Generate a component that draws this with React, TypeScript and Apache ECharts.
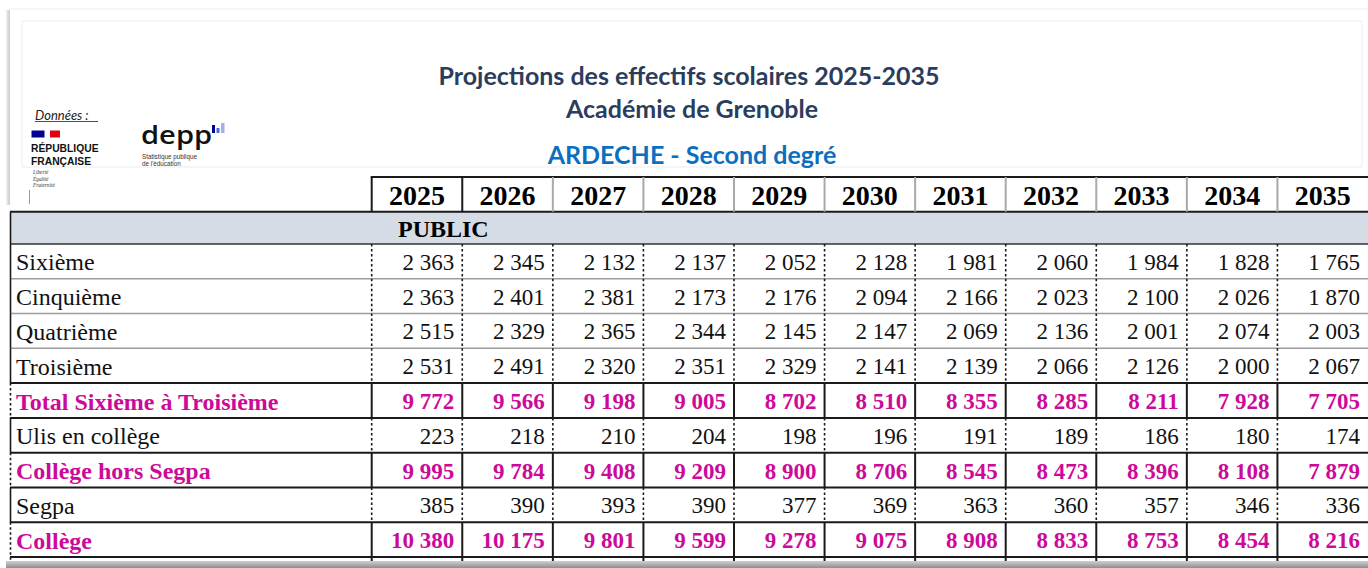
import React, { useEffect, useRef } from "react";
import * as echarts from "echarts";

// ---------- DATA ----------
const years = ["2025", "2026", "2027", "2028", "2029", "2030", "2031", "2032", "2033", "2034", "2035"];
const rowLabels = [
  "Sixième",
  "Cinquième",
  "Quatrième",
  "Troisième",
  "Total Sixième à Troisième",
  "Ulis en collège",
  "Collège hors Segpa",
  "Segpa",
  "Collège",
];
const totalRowLabels = ["Total Sixième à Troisième", "Collège hors Segpa", "Collège"];

const sixieme = [2363, 2345, 2132, 2137, 2052, 2128, 1981, 2060, 1984, 1828, 1765];
const cinquieme = [2363, 2401, 2381, 2173, 2176, 2094, 2166, 2023, 2100, 2026, 1870];
const quatrieme = [2515, 2329, 2365, 2344, 2145, 2147, 2069, 2136, 2001, 2074, 2003];
const troisieme = [2531, 2491, 2320, 2351, 2329, 2141, 2139, 2066, 2126, 2000, 2067];
const totalSixTrois = [9772, 9566, 9198, 9005, 8702, 8510, 8355, 8285, 8211, 7928, 7705];
const ulis = [223, 218, 210, 204, 198, 196, 191, 189, 186, 180, 174];
const collegeHorsSegpa = [9995, 9784, 9408, 9209, 8900, 8706, 8545, 8473, 8396, 8108, 7879];
const segpa = [385, 390, 393, 390, 377, 369, 363, 360, 357, 346, 336];
const college = [10380, 10175, 9801, 9599, 9278, 9075, 8908, 8833, 8753, 8454, 8216];

const tableValues = [sixieme, cinquieme, quatrieme, troisieme, totalSixTrois, ulis, collegeHorsSegpa, segpa, college];

const titleLine1 = "Projections des effectifs scolaires 2025-2035";
const titleLine2 = "Académie de Grenoble";
const subtitle = "ARDECHE - Second degré";
const sectionLabel = "PUBLIC";

// ---------- LAYOUT / STYLE ----------
const W = 1368;
const H = 568;
const PAGE_LEFT = 10;
const COL_W = 91.33;
const GRID_LEFT = 371.7;
const GRID_TOP = 244;
const GRID_H = 313;
const HEADER_TOP = 177;
const BAND_TOP = 211.7;
const SERIF = "'Liberation Serif', 'Times New Roman', serif";
const SANS = "Lato, 'Open Sans', sans-serif";
const LOGO_SANS = "'Liberation Sans', Arial, sans-serif";
const MAGENTA = "#cc0a9a";
const DARK = "#1a1a1a";
const DOT = [2.5, 2.5];
const TITLE_SIZE = 25;

const fmt = (n: number) => String(n).replace(/\B(?=(\d{3})+(?!\d))/g, " ");
const isTotal = (r: number) => totalRowLabels.indexOf(rowLabels[r]) >= 0;

export default function App() {
  const ref = useRef<HTMLDivElement>(null);

  useEffect(() => {
    if (!ref.current) return;
    const chart = echarts.init(ref.current, null, { renderer: "svg" });

    const cellData: number[][] = [];
    tableValues.forEach((vals, r) => vals.forEach((v, c) => cellData.push([c, r, v])));
    const rowData = rowLabels.map((_, r) => [0, r]);

    const option: any = {
      animation: false,
      backgroundColor: "#ffffff",
      title: [
        {
          text: titleLine1,
          left: 689,
          top: 60,
          padding: 0,
          textAlign: "center",
          textStyle: { fontFamily: SANS, fontWeight: "bold", fontSize: TITLE_SIZE, lineHeight: 30, color: "#2b3d5c" },
        },
        {
          text: titleLine2,
          left: 692,
          top: 93,
          padding: 0,
          textAlign: "center",
          textStyle: { fontFamily: SANS, fontWeight: "bold", fontSize: TITLE_SIZE, lineHeight: 30, color: "#2b3d5c" },
        },
        {
          text: subtitle,
          left: 692,
          top: 139,
          padding: 0,
          textAlign: "center",
          textStyle: { fontFamily: SANS, fontWeight: "bold", fontSize: TITLE_SIZE, lineHeight: 30, color: "#0a6fc0" },
        },
      ],
      grid: { left: GRID_LEFT, top: GRID_TOP, width: COL_W * years.length, height: GRID_H, show: false },
      xAxis: {
        type: "category",
        data: years,
        position: "top",
        axisLine: { show: false },
        axisTick: { show: false },
        splitLine: { show: false },
        axisLabel: {
          interval: 0,
          margin: 49,
          verticalAlign: "middle",
          fontFamily: SERIF,
          fontWeight: "bold",
          fontSize: 28,
          color: "#000",
        },
      },
      yAxis: { type: "category", data: rowLabels, inverse: true, show: false },
      series: [
        {
          type: "custom",
          name: "rows",
          silent: true,
          data: rowData,
          encode: { x: 0, y: 1 },
          renderItem: (params: any, api: any) => {
            const r = api.value(1) as number;
            const pt = api.coord([0, r]);
            const h = api.size([0, 1])[1];
            const top = pt[1] - h / 2;
            const bottom = pt[1] + h / 2;
            const tot = isTotal(r);
            const last = r === rowLabels.length - 1;
            const strong = tot || last || (r + 1 < rowLabels.length && isTotal(r + 1));
            return {
              type: "group",
              children: [
                {
                  type: "text",
                  x: PAGE_LEFT + 6,
                  y: pt[1] + 1,
                  style: {
                    text: rowLabels[r],
                    fontFamily: SERIF,
                    fontSize: 24,
                    fontWeight: tot ? "bold" : "normal",
                    fill: tot ? MAGENTA : "#111",
                    align: "left",
                    verticalAlign: "middle",
                  },
                },
                {
                  type: "line",
                  shape: { x1: PAGE_LEFT, y1: bottom, x2: W, y2: bottom },
                  style: { stroke: strong ? DARK : "#9c9c9c", lineWidth: strong ? 2 : 1.5 },
                },
                {
                  type: "line",
                  shape: { x1: PAGE_LEFT + 0.5, y1: top, x2: PAGE_LEFT + 0.5, y2: bottom + (last ? 4 : 0) },
                  style: { stroke: DARK, lineWidth: 1.6, lineDash: tot ? DOT : null },
                },
              ],
            };
          },
          z: 2,
        },
        {
          type: "custom",
          name: "cells",
          silent: true,
          data: cellData,
          encode: { x: 0, y: 1 },
          renderItem: (params: any, api: any) => {
            const c = api.value(0) as number;
            const r = api.value(1) as number;
            const v = api.value(2) as number;
            const pt = api.coord([c, r]);
            const sz = api.size([1, 1]);
            const left = pt[0] - sz[0] / 2;
            const right = pt[0] + sz[0] / 2;
            const top = pt[1] - sz[1] / 2;
            const bottom = pt[1] + sz[1] / 2;
            const tot = isTotal(r);
            const last = r === rowLabels.length - 1;
            const children: any[] = [
              {
                type: "text",
                x: right - 8,
                y: pt[1] + 1,
                style: {
                  text: fmt(v),
                  fontFamily: SERIF,
                  fontSize: 23,
                  fontWeight: tot ? "bold" : "normal",
                  fill: tot ? MAGENTA : "#111",
                  align: "right",
                  verticalAlign: "middle",
                },
              },
              {
                type: "line",
                shape: { x1: left, y1: top, x2: left, y2: bottom + (last ? 4 : 0) },
                style: { stroke: DARK, lineWidth: tot ? 2 : 1.6, lineDash: tot ? null : DOT },
              },
            ];
            if (r === 0) {
              children.push({
                type: "line",
                shape: { x1: left, y1: HEADER_TOP, x2: left, y2: BAND_TOP },
                style: { stroke: c <= 1 ? DARK : "#a9a9a9", lineWidth: 2 },
              });
            }
            return { type: "group", children };
          },
          z: 3,
        },
      ],
      graphic: [
        // page edges / shadows
        { type: "line", shape: { x1: PAGE_LEFT, y1: 9, x2: W, y2: 9 }, style: { stroke: "#eeeeee", lineWidth: 1 } },
        {
          type: "rect",
          shape: { x: 6, y: 10, width: 4, height: 195 },
          style: {
            fill: new echarts.graphic.LinearGradient(0, 0, 1, 0, [
              { offset: 0, color: "#f2f2f2" },
              { offset: 1, color: "#c9c9c9" },
            ]),
          },
        },
        { type: "rect", shape: { x: 22, y: 21, width: 1340, height: 146 }, style: { fill: "none", stroke: "#ebebeb", lineWidth: 1 } },
        { type: "line", shape: { x1: 29.5, y1: 190, x2: 29.5, y2: 204 }, style: { stroke: "#9a9a9a", lineWidth: 1 } },
        {
          type: "rect",
          shape: { x: 6, y: 561, width: W - 6, height: 7 },
          style: {
            fill: new echarts.graphic.LinearGradient(0, 0, 0, 1, [
              { offset: 0, color: "#cfcfcf" },
              { offset: 1, color: "#8e8e8e" },
            ]),
          },
        },
        // header row top line
        { type: "line", shape: { x1: GRID_LEFT - 1, y1: HEADER_TOP, x2: W, y2: HEADER_TOP }, style: { stroke: DARK, lineWidth: 2 } },
        // PUBLIC band
        { type: "rect", shape: { x: PAGE_LEFT, y: BAND_TOP, width: W - PAGE_LEFT, height: GRID_TOP - BAND_TOP }, style: { fill: "#d6dce5" } },
        { type: "line", shape: { x1: PAGE_LEFT, y1: BAND_TOP, x2: W, y2: BAND_TOP }, style: { stroke: DARK, lineWidth: 2 } },
        { type: "line", shape: { x1: PAGE_LEFT, y1: GRID_TOP, x2: W, y2: GRID_TOP }, style: { stroke: "#333", lineWidth: 1.6 } },
        { type: "line", shape: { x1: PAGE_LEFT + 0.5, y1: BAND_TOP, x2: PAGE_LEFT + 0.5, y2: GRID_TOP }, style: { stroke: DARK, lineWidth: 1.6 } },
        {
          type: "text",
          x: 398,
          y: (BAND_TOP + GRID_TOP) / 2 + 1,
          style: { text: sectionLabel, fontFamily: SERIF, fontSize: 24, fontWeight: "bold", fill: "#000", align: "left", verticalAlign: "middle" },
        },
        // Données :
        {
          type: "text",
          x: 35,
          y: 115,
          style: { text: "Données :", fontFamily: SANS, fontStyle: "italic", fontSize: 13, fill: "#222", align: "left", verticalAlign: "middle" },
        },
        { type: "line", shape: { x1: 35, y1: 121.5, x2: 98, y2: 121.5 }, style: { stroke: "#222", lineWidth: 0.8 } },
        // Marianne
        { type: "rect", shape: { x: 31.5, y: 130.5, width: 13, height: 7 }, style: { fill: "#000091" } },
        { type: "rect", shape: { x: 50, y: 130.5, width: 10, height: 7 }, style: { fill: "#e1000f" } },
        {
          type: "text",
          x: 31,
          y: 155,
          style: {
            text: "RÉPUBLIQUE\nFRANÇAISE",
            fontFamily: LOGO_SANS,
            fontWeight: "bold",
            fontSize: 10.3,
            lineHeight: 12.5,
            fill: "#111",
            align: "left",
            verticalAlign: "middle",
          },
        },
        {
          type: "text",
          x: 33,
          y: 178.5,
          style: { text: "Liberté\nÉgalité\nFraternité", fontFamily: SERIF, fontStyle: "italic", fontSize: 5.3, lineHeight: 6.8, fill: "#333", verticalAlign: "middle" },
        },
        // depp logo
        {
          type: "text",
          x: 141,
          y: 134,
          scaleX: 1.12,
          style: { text: "depp", fontFamily: "'Open Sans', sans-serif", fontWeight: 600, fontSize: 26, fill: "#111", align: "left", verticalAlign: "middle" },
        },
        { type: "rect", shape: { x: 212, y: 125, width: 3, height: 8 }, style: { fill: "#000091" } },
        { type: "rect", shape: { x: 216.5, y: 128, width: 3, height: 5 }, style: { fill: "#4a6ad4" } },
        { type: "rect", shape: { x: 221, y: 123, width: 3.5, height: 10 }, style: { fill: "#9db2e8" } },
        {
          type: "text",
          x: 142,
          y: 160,
          style: { text: "Statistique publique\nde l'éducation", fontFamily: LOGO_SANS, fontSize: 6.3, lineHeight: 7.6, fill: "#333", verticalAlign: "middle" },
        },
      ],
    };

    chart.setOption(option);
    return () => chart.dispose();
  }, []);

  return <div ref={ref} style={{ position: "absolute", left: 0, top: 0, width: W, height: H }} />;
}
